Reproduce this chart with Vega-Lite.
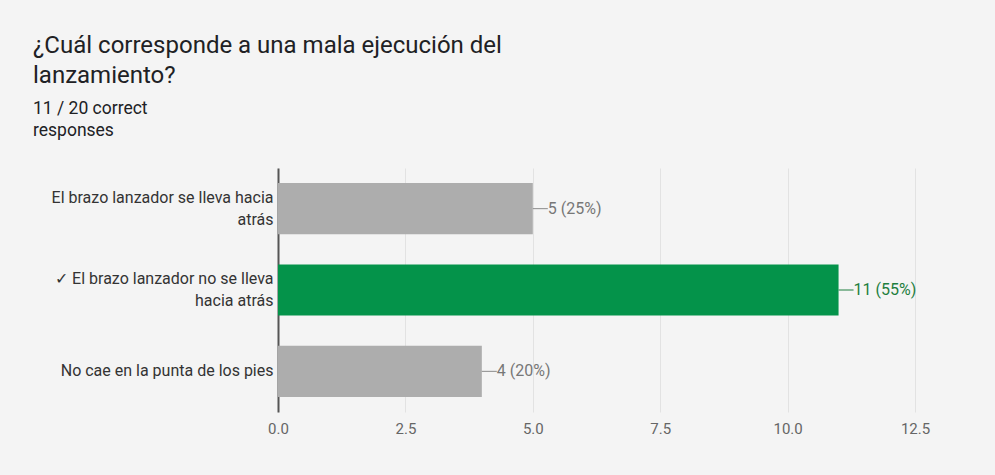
{
  "$schema": "https://vega.github.io/schema/vega-lite/v6.json",
  "width": 637,
  "height": 244,
  "autosize": {"type": "none"},
  "padding": {"left": 278, "top": 168, "right": 80, "bottom": 63},
  "background": "#f4f4f4",
  "title": {
    "text": ["¿Cuál corresponde a una mala ejecución del", "lanzamiento?"],
    "subtitle": ["11 / 20 correct", "responses"],
    "anchor": "start",
    "frame": "group",
    "dx": -245,
    "offset": 29,
    "font": "Roboto",
    "fontSize": 24,
    "fontWeight": "normal",
    "color": "#202124",
    "lineHeight": 30,
    "subtitleFont": "Roboto",
    "subtitleFontSize": 17.5,
    "subtitleColor": "#202124",
    "subtitleLineHeight": 22,
    "subtitlePadding": 12
  },
  "config": {"view": {"stroke": null}},
  "data": {
    "values": [
      {"label": "El brazo lanzador se lleva hacia|atrás", "count": 5, "display": "5 (25%)", "correct": "no"},
      {"label": "✓ El brazo lanzador no se lleva|hacia atrás", "count": 11, "display": "11 (55%)", "correct": "yes"},
      {"label": "No cae en la punta de los pies", "count": 4, "display": "4 (20%)", "correct": "no"}
    ]
  },
  "encoding": {
    "y": {
      "field": "label",
      "type": "nominal",
      "sort": null,
      "scale": {"paddingInner": 0.37, "paddingOuter": 0.185},
      "axis": {
        "title": null,
        "labelExpr": "split(datum.label, '|')",
        "labelFont": "Roboto",
        "labelFontSize": 16,
        "labelColor": "#333333",
        "labelLineHeight": 22,
        "labelOffset": {"condition": {"test": "indexof(datum.value, '|') >= 0", "value": -11}, "value": 0},
        "labelLimit": 260,
        "ticks": false,
        "labelPadding": 5,
        "domainColor": "#555555",
        "domainWidth": 2,
        "grid": false
      }
    }
  },
  "layer": [
    {
      "mark": {"type": "bar"},
      "encoding": {
        "x": {
          "field": "count",
          "type": "quantitative",
          "scale": {"domain": [0, 12.5], "nice": false},
          "axis": {
            "values": [0, 2.5, 5, 7.5, 10, 12.5],
            "format": ".1f",
            "title": null,
            "domain": false,
            "ticks": false,
            "labelFlush": false,
            "labelPadding": 9,
            "labelFont": "Roboto",
            "labelFontSize": 15,
            "labelColor": "#666666",
            "gridColor": "#e2e2e2"
          }
        },
        "color": {
          "field": "correct",
          "type": "nominal",
          "scale": {"domain": ["no", "yes"], "range": ["#adadad", "#04934a"]},
          "legend": null
        }
      }
    },
    {
      "mark": {"type": "rule", "x2Offset": 15, "strokeWidth": 1},
      "encoding": {
        "x": {"field": "count", "type": "quantitative"},
        "x2": {"field": "count"},
        "color": {"condition": {"test": "datum.correct == 'yes'", "value": "#1e7e3e"}, "value": "#8a8a8a"}
      }
    },
    {
      "mark": {"type": "text", "align": "left", "baseline": "middle", "dx": 15, "font": "Roboto", "fontSize": 16},
      "encoding": {
        "x": {"field": "count", "type": "quantitative"},
        "text": {"field": "display"},
        "color": {"condition": {"test": "datum.correct == 'yes'", "value": "#1e7e3e"}, "value": "#777777"}
      }
    }
  ]
}
